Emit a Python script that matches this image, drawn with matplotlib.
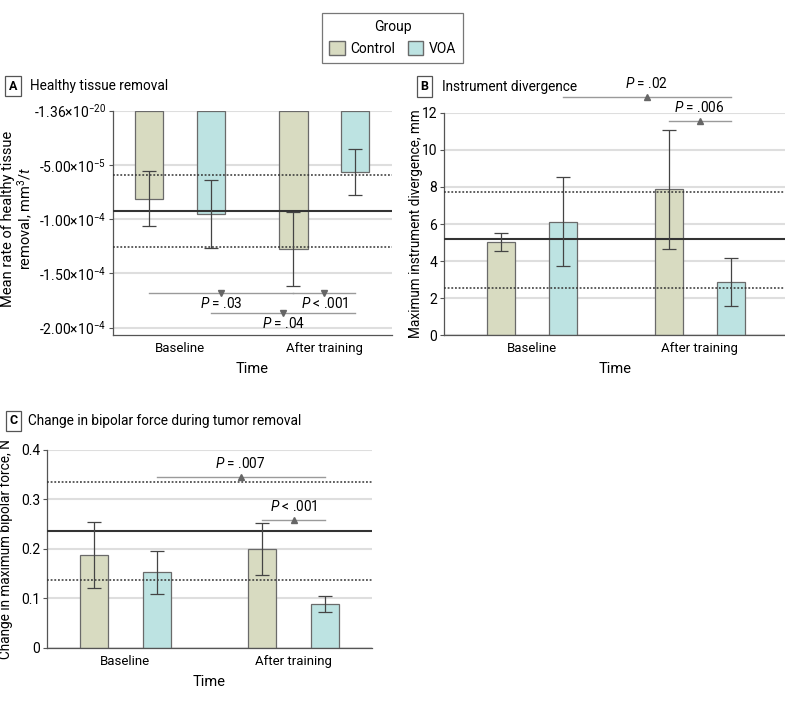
import matplotlib
matplotlib.use("Agg")
import matplotlib.pyplot as plt
import matplotlib.patches as patches
from matplotlib.ticker import FixedLocator, FixedFormatter
import numpy as np

plt.rcParams['font.family'] = ['Roboto', 'DejaVu Sans']
plt.rcParams['mathtext.fontset'] = 'custom'
plt.rcParams['mathtext.rm'] = 'Roboto'
plt.rcParams['mathtext.it'] = 'Roboto:italic'

# ---- data ----
groups = ["Control", "VOA"]
times = ["Baseline", "After training"]

removal_control = [-8.12e-5, -1.276e-4]
removal_control_err = [2.53e-5, 3.4e-5]
removal_voa = [-9.53e-5, -5.65e-5]
removal_voa_err = [3.1e-5, 2.15e-5]
removal_ref = [-9.22e-5, -5.9e-5, -1.26e-4]   # mean, upper, lower
removal_ticks = [0, -5e-5, -1e-4, -1.5e-4, -2e-4]
removal_ticklabels = ["-1.36×10$^{-20}$", "-5.00×10$^{-5}$", "-1.00×10$^{-4}$",
                      "-1.50×10$^{-4}$", "-2.00×10$^{-4}$"]
# (from group, from time, to group, to time, y, label)
removal_pvals = [(0, 0, 0, 1, -1.68e-4, "$P$ = .03"),
                 (0, 1, 1, 1, -1.68e-4, "$P$ < .001"),
                 (1, 0, 1, 1, -1.87e-4, "$P$ = .04")]

divergence_control = [5.05, 7.87]
divergence_control_err = [0.485, 3.22]
divergence_voa = [6.12, 2.87]
divergence_voa_err = [2.39, 1.31]
divergence_ref = [5.17, 7.74, 2.57]
divergence_pvals = [(1, 0, 1, 1, 12.86, "$P$ = .02"),
                    (0, 1, 1, 1, 11.55, "$P$ = .006")]

force_control = [0.187, 0.199]
force_control_err = [0.0665, 0.0525]
force_voa = [0.1526, 0.088]
force_voa_err = [0.0435, 0.0167]
force_ref = [0.236, 0.335, 0.1376]
force_pvals = [(1, 0, 1, 1, 0.346, "$P$ = .007"),
               (0, 1, 1, 1, 0.2578, "$P$ < .001")]

colors = ['#d8dbc1', '#bde3e2']
edge = '#6a6a6a'
LABEL_FS = 9.8


def draw_panel(ax, means, errs, ref, pvals, offset, width, xlim, ylim, down):
    x = np.arange(len(times))
    pos = [x - offset, x + offset]
    ax.set_xlim(*xlim)
    ax.set_ylim(*ylim)
    for g in range(2):
        ax.bar(pos[g], means[g], width=width, color=colors[g], edgecolor=edge,
               linewidth=0.9, zorder=2)
        ax.errorbar(pos[g], means[g], yerr=errs[g], fmt='none', ecolor='#444444',
                    elinewidth=0.9, capsize=5, capthick=0.9, zorder=4)
    ax.axhline(ref[0], color='#333333', lw=1.5, zorder=3)
    ax.axhline(ref[1], color='#333333', lw=1.1, ls=(0, (1.2, 1.2)), zorder=3)
    ax.axhline(ref[2], color='#333333', lw=1.1, ls=(0, (1.2, 1.2)), zorder=3)
    for g1, t1, g2, t2, y, label in pvals:
        x1 = pos[g1][t1]
        x2 = pos[g2][t2]
        xm = (x1 + x2) / 2
        ax.plot([x1, x2], [y, y], color='#9a9a9a', lw=1.0, clip_on=False, zorder=3)
        if down:
            ax.plot(xm, y, marker='v', ms=5, color='#666666', clip_on=False, zorder=3)
            ax.annotate(label, (xm, y), xytext=(0, -7.5), textcoords='offset points',
                        ha='center', va='center', fontsize=9.8, annotation_clip=False)
        else:
            ax.plot(xm, y, marker='^', ms=5, color='#666666', clip_on=False, zorder=3)
            ax.annotate(label, (xm, y), xytext=(0, 9.8), textcoords='offset points',
                        ha='center', va='center', fontsize=9.8, annotation_clip=False)
    ax.set_xticks(x)
    ax.set_xticklabels(times, fontsize=9.5)
    ax.tick_params(axis='x', length=0, pad=5)
    ax.tick_params(axis='y', length=3, color='#555555', labelsize=10, pad=2)
    ax.set_xlabel("Time", fontsize=10.5, labelpad=5)
    ax.grid(axis='y', color='#dedede', lw=1.5, zorder=0)
    ax.set_axisbelow(True)
    for s in ['top', 'right']:
        ax.spines[s].set_visible(False)
    for s in ['left', 'bottom']:
        ax.spines[s].set_color('#555555')
        ax.spines[s].set_linewidth(0.9)


fig = plt.figure(figsize=(7.85, 7.04), dpi=100)

# Panel A
axA = fig.add_axes([0.1439, 0.5241, 0.3554, 0.3186])
draw_panel(axA, [removal_control, removal_voa], [removal_control_err, removal_voa_err],
           removal_ref, removal_pvals, 0.2145, 0.194, (-0.464, 1.467), (-2.069e-4, 0),
           down=True)
axA.yaxis.set_major_locator(FixedLocator(removal_ticks))
axA.yaxis.set_major_formatter(FixedFormatter(removal_ticklabels))
axA.set_ylabel("Mean rate of healthy tissue\nremoval, mm$^3$/$t$", fontsize=LABEL_FS + 0.7,
               linespacing=1.05)
axA.yaxis.set_label_coords(-0.28, 0.52)

# Panel B
axB = fig.add_axes([0.566, 0.5237, 0.434, 0.3162])
draw_panel(axB, [divergence_control, divergence_voa],
           [divergence_control_err, divergence_voa_err],
           divergence_ref, divergence_pvals, 0.1845, 0.1667, (-0.519, 1.508), (0, 12),
           down=False)
axB.set_yticks([0, 2, 4, 6, 8, 10, 12])
axB.set_ylabel("Maximum instrument divergence, mm", fontsize=LABEL_FS)
axB.yaxis.set_label_coords(-0.062, 0.5)

# Panel C
axC = fig.add_axes([0.0603, 0.08, 0.4132, 0.2808])
draw_panel(axC, [force_control, force_voa], [force_control_err, force_voa_err],
           force_ref, force_pvals, 0.1855, 0.1667, (-0.464, 1.465), (0, 0.4),
           down=False)
axC.set_yticks([0, 0.1, 0.2, 0.3, 0.4])
axC.set_yticklabels(["0", "0.1", "0.2", "0.3", "0.4"])
axC.set_ylabel("Change in maximum bipolar force, N", fontsize=LABEL_FS)
axC.yaxis.set_label_coords(-0.105, 0.5)

# Panel titles
box = dict(boxstyle='square,pad=0.3', facecolor='white', edgecolor='#555555', lw=0.9)
for lx, ly, letter, tx, title in [(13, 86, "A", 30, "Healthy tissue removal"),
                                  (424.5, 86.5, "B", 441.7, "Instrument divergence"),
                                  (13.5, 421, "C", 28, "Change in bipolar force during tumor removal")]:
    fig.text(lx / 785, 1 - ly / 704, letter, ha='center', va='center', fontsize=9,
             fontweight='bold', bbox=box)
    fig.text(tx / 785, 1 - ly / 704, title, ha='left', va='center', fontsize=9.8)

# Legend
handles = [patches.Patch(facecolor=colors[i], edgecolor=edge, label=groups[i]) for i in range(2)]
leg = fig.legend(handles=handles, title="Group", ncol=2, loc='upper center',
                 bbox_to_anchor=(0.5, 0.981), borderaxespad=0, fontsize=10, title_fontsize=10,
                 frameon=True, fancybox=False, edgecolor='#555555', handlelength=1.1,
                 handleheight=1.1, columnspacing=0.9, handletextpad=0.4,
                 borderpad=0.5)
leg.get_frame().set_linewidth(0.9)

fig.savefig("out.png", dpi=100)
